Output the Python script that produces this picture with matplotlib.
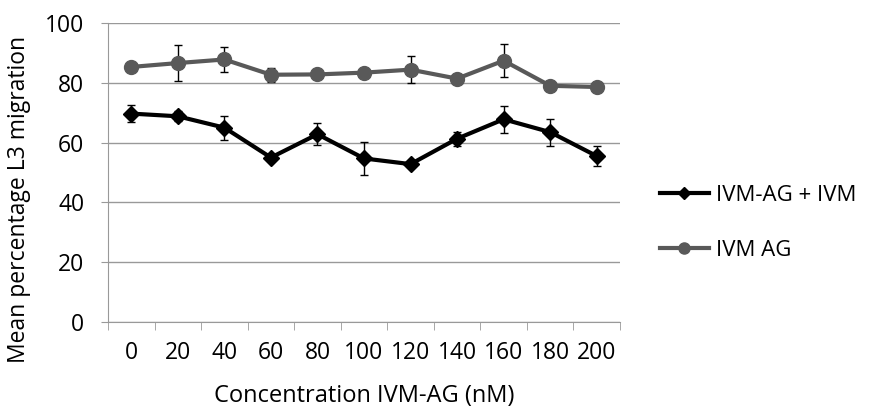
import numpy as np
import matplotlib.pyplot as plt

conc = ["0", "20", "40", "60", "80", "100", "120", "140", "160", "180", "200"]

combo_mean = [69.7, 68.8, 65.0, 55.0, 62.8, 54.7, 52.8, 61.3, 67.8, 63.5, 55.5]
combo_err = [2.8, 1.7, 4.0, 0.8, 3.7, 5.6, 1.0, 2.4, 4.6, 4.5, 3.2]

ag_mean = [85.3, 86.6, 87.8, 82.7, 82.8, 83.4, 84.4, 81.4, 87.4, 79.0, 78.6]
ag_err = [1.2, 6.0, 4.3, 2.3, 0.8, 0.8, 4.4, 1.6, 5.5, 1.0, 0.8]

plt.rcParams["font.family"] = ["Open Sans", "DejaVu Sans"]

fig = plt.figure(figsize=(8.73, 4.09), dpi=100)
ax = fig.add_axes([108 / 873, 1 - 322 / 409, 512 / 873, 299 / 409])

x = np.arange(len(conc))

ax.errorbar(x, combo_mean, yerr=combo_err, color="black", lw=3, marker="D",
            markersize=8, ecolor="black", elinewidth=1, capsize=3, capthick=1,
            label="IVM-AG + IVM", zorder=3)
ax.errorbar(x, ag_mean, yerr=ag_err, color="#595959", lw=3, marker="o",
            markersize=10, ecolor="black", elinewidth=1, capsize=3, capthick=1,
            label="IVM AG", zorder=3)

ax.set_xlim(-0.5, len(conc) - 0.5)
ax.set_ylim(0, 100)
ax.set_yticks(range(0, 101, 20))
ax.set_xticks(x)
ax.set_xticklabels(conc)
ax.set_xticks(np.arange(-0.5, len(conc), 1), minor=True)
ax.tick_params(axis="x", which="major", length=0, labelsize=16.5, pad=14)
ax.tick_params(axis="x", which="minor", length=6, color="#999999")
ax.tick_params(axis="y", length=5, color="#999999", labelsize=16.5, pad=12)

ax.grid(axis="y", color="#999999", lw=1)
ax.set_axisbelow(True)
for s in ["top", "right"]:
    ax.spines[s].set_visible(False)
for s in ["left", "bottom"]:
    ax.spines[s].set_color("#999999")

ax.set_xlabel("Concentration IVM-AG (nM)", fontsize=17, labelpad=13)
ax.set_ylabel("Mean percentage L3 migration", fontsize=16.5)
ax.yaxis.set_label_coords(-0.15, 0.41)

handles, labels = ax.get_legend_handles_labels()
handles = [h[0] for h in handles]
fig.legend(handles, labels, loc="center left", bbox_to_anchor=(660 / 873, 1 - 223 / 409),
           frameon=False, fontsize=16, handlelength=2.2, handletextpad=0.3,
           labelspacing=1.55, markerscale=0.8, borderpad=0, borderaxespad=0)

fig.savefig("out.png", dpi=100)
